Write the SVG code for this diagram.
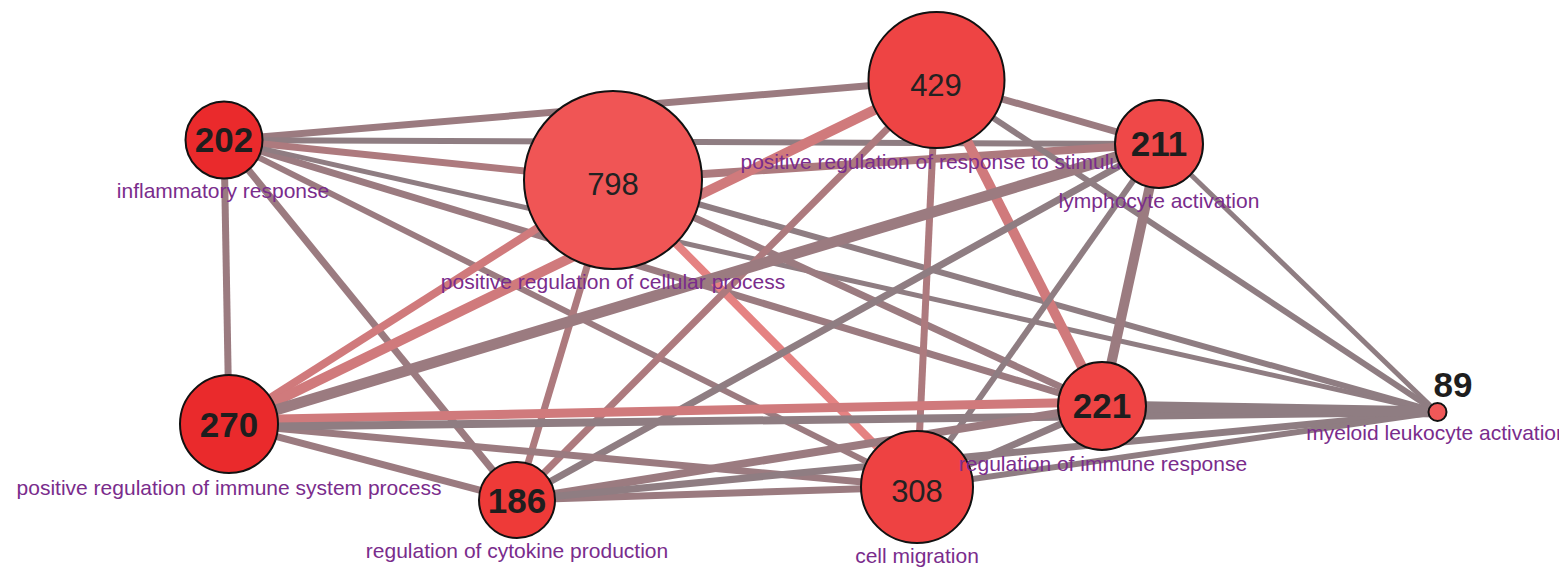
<svg xmlns="http://www.w3.org/2000/svg" width="1559" height="573" viewBox="0 0 1559 573">
<style>
.e{fill:none;stroke-linecap:butt}
.g{stroke:#8F7D82}
.m{stroke:#9B7B80}
.b{stroke:#AD7A7E}
.p{stroke:#D07A7C}
.pk{stroke:#E58282}
.n{stroke:#111;stroke-width:2}
.lbl{font-family:"Liberation Sans",Arial,sans-serif;font-size:21px;fill:#7A2C8C;text-anchor:middle}
.nb{font-family:"Liberation Sans",Arial,sans-serif;font-size:35px;font-weight:bold;fill:#1E1E1E;text-anchor:middle}
.nr{font-family:"Liberation Sans",Arial,sans-serif;font-size:31px;fill:#222;text-anchor:middle}
</style>
<rect width="1559" height="573" fill="#fff"/>
<g id="connectors" class="e">
<line class="m" x1="224" y1="140" x2="936" y2="80" stroke-width="7"/>
<line class="g" x1="224" y1="140" x2="1159" y2="144" stroke-width="6"/>
<line class="b" x1="224" y1="140" x2="613" y2="180" stroke-width="7"/>
<line class="m" x1="224" y1="140" x2="229" y2="424" stroke-width="7"/>
<line class="m" x1="224" y1="140" x2="517" y2="500" stroke-width="7"/>
<line class="m" x1="224" y1="140" x2="917" y2="487" stroke-width="6"/>
<line class="m" x1="224" y1="140" x2="1102" y2="406" stroke-width="7"/>
<line class="g" x1="224" y1="140" x2="1437" y2="412" stroke-width="5"/>
<line class="b" x1="613" y1="180" x2="1159" y2="144" stroke-width="8"/>
<line class="p" x1="613" y1="180" x2="229" y2="424" stroke-width="8"/>
<line class="b" x1="613" y1="180" x2="517" y2="500" stroke-width="7"/>
<line class="pk" x1="613" y1="180" x2="917" y2="487" stroke-width="8"/>
<line class="m" x1="613" y1="180" x2="1102" y2="406" stroke-width="7"/>
<line class="g" x1="613" y1="180" x2="1437" y2="412" stroke-width="6"/>
<line class="m" x1="936" y1="80" x2="1159" y2="144" stroke-width="7"/>
<line class="p" x1="936" y1="80" x2="229" y2="424" stroke-width="10"/>
<line class="b" x1="936" y1="80" x2="517" y2="500" stroke-width="7"/>
<line class="b" x1="936" y1="80" x2="917" y2="487" stroke-width="7"/>
<line class="p" x1="936" y1="80" x2="1102" y2="406" stroke-width="10"/>
<line class="g" x1="936" y1="80" x2="1437" y2="412" stroke-width="6"/>
<line class="m" x1="1159" y1="144" x2="229" y2="424" stroke-width="11"/>
<line class="g" x1="1159" y1="144" x2="517" y2="500" stroke-width="7"/>
<line class="g" x1="1159" y1="144" x2="917" y2="487" stroke-width="6"/>
<line class="m" x1="1159" y1="144" x2="1102" y2="406" stroke-width="10"/>
<line class="g" x1="1159" y1="144" x2="1437" y2="412" stroke-width="5"/>
<line class="m" x1="229" y1="424" x2="517" y2="500" stroke-width="7"/>
<line class="m" x1="229" y1="424" x2="917" y2="487" stroke-width="7"/>
<line class="p" x1="229" y1="420" x2="1102" y2="402" stroke-width="9"/>
<line class="g" x1="229" y1="427" x2="1437" y2="412" stroke-width="8"/>
<line class="m" x1="517" y1="500" x2="917" y2="487" stroke-width="7"/>
<line class="m" x1="517" y1="500" x2="1102" y2="406" stroke-width="8"/>
<line class="g" x1="517" y1="500" x2="1437" y2="412" stroke-width="7"/>
<line class="g" x1="917" y1="487" x2="1102" y2="406" stroke-width="7"/>
<line class="g" x1="917" y1="487" x2="1437" y2="412" stroke-width="6"/>
<line class="g" x1="1102" y1="406" x2="1437" y2="412" stroke-width="11"/>
</g>
<g id="node-202">
<text class="lbl" x="223" y="198">inflammatory response</text>
<circle class="n" cx="224" cy="140" r="38.5" fill="#EA2A2C"/>
<text class="nb" x="224" y="152">202</text>
</g>
<g id="node-798">
<text class="lbl" x="613" y="289">positive regulation of cellular process</text>
<circle class="n" cx="613" cy="180" r="89" fill="#F05555"/>
<text class="nr" x="613" y="195">798</text>
</g>
<g id="node-429">
<text class="lbl" x="936" y="169">positive regulation of response to stimulus</text>
<circle class="n" cx="936.5" cy="80" r="68" fill="#EE4444"/>
<text class="nr" x="936" y="96">429</text>
</g>
<g id="node-211">
<text class="lbl" x="1159" y="208">lymphocyte activation</text>
<circle class="n" cx="1159" cy="144" r="44" fill="#EF4848"/>
<text class="nb" x="1159" y="156">211</text>
</g>
<g id="node-270">
<text class="lbl" x="229" y="495">positive regulation of immune system process</text>
<circle class="n" cx="229" cy="424" r="49" fill="#EA2A2C"/>
<text class="nb" x="229" y="437">270</text>
</g>
<g id="node-186">
<text class="lbl" x="517" y="558">regulation of cytokine production</text>
<circle class="n" cx="517" cy="500" r="38" fill="#EE3A38"/>
<text class="nb" x="517" y="513">186</text>
</g>
<g id="node-308">
<text class="lbl" x="917" y="563">cell migration</text>
<circle class="n" cx="917" cy="487" r="56" fill="#EE4242"/>
<text class="nr" x="917" y="502">308</text>
</g>
<g id="node-221">
<text class="lbl" x="1103" y="471">regulation of immune response</text>
<circle class="n" cx="1102" cy="406" r="44" fill="#EF4444"/>
<text class="nb" x="1102" y="418">221</text>
</g>
<g id="node-89">
<text class="lbl" x="1437" y="440">myeloid leukocyte activation</text>
<circle class="n" cx="1437.5" cy="412" r="9" fill="#F05858"/>
<text class="nb" x="1453" y="397" font-size="32">89</text>
</g>
</svg>
